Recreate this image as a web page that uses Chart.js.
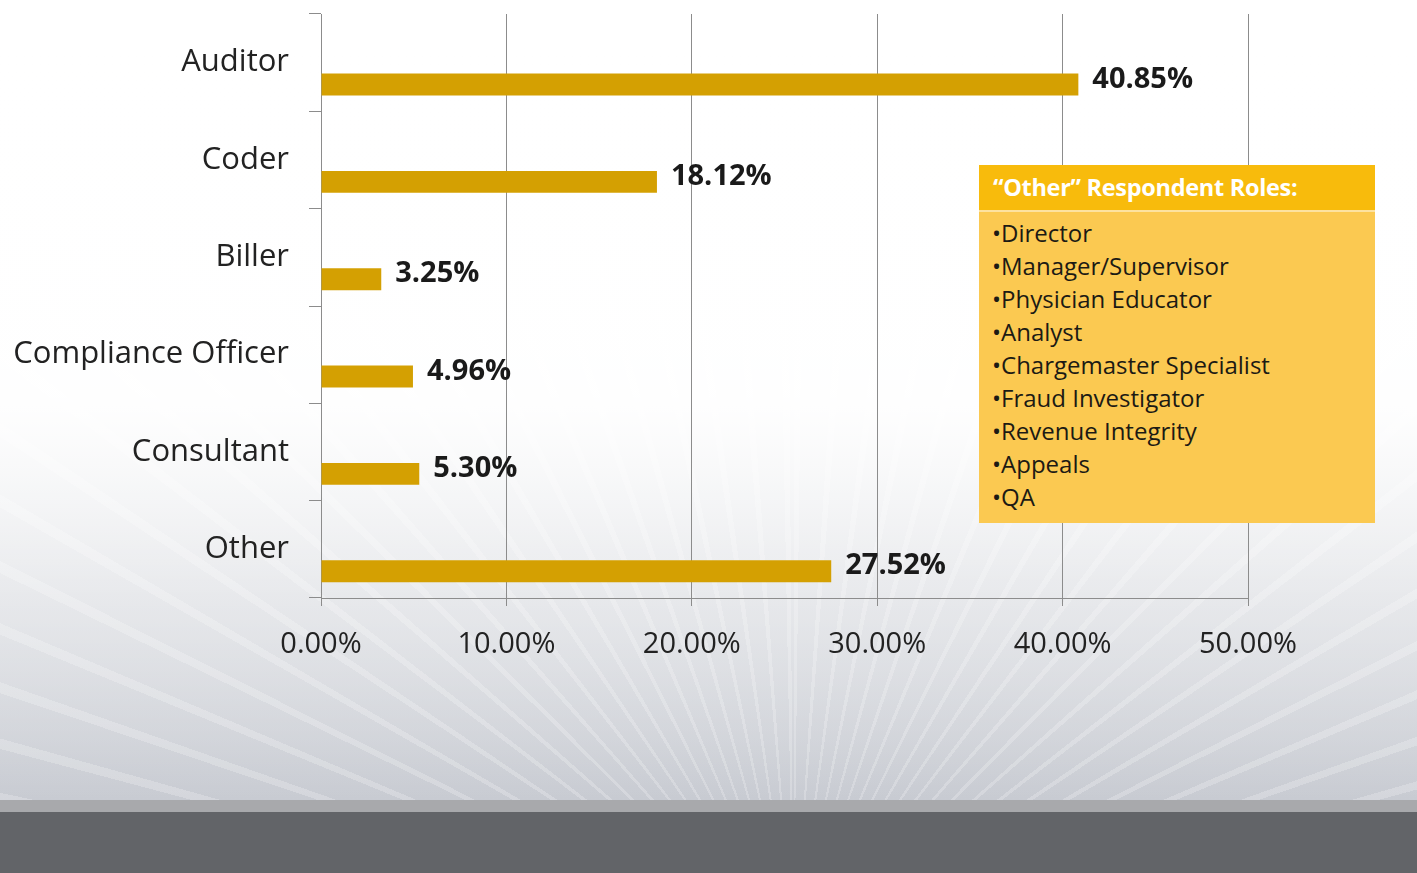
<!DOCTYPE html>
<html lang="en">
<head>
<meta charset="UTF-8">
<title>Respondent Roles</title>
<style>
    html, body { margin: 0; padding: 0; }
    body { width: 1417px; height: 873px; position: relative; overflow: hidden; font-family: "Open Sans", sans-serif; }
    .bg { position: absolute; left: 0; top: 0; width: 1417px; height: 800px;
        background:
            linear-gradient(to bottom, #fff 0%, rgba(255,255,255,0.97) 50%, rgba(255,255,255,0.4) 75%, rgba(255,255,255,0) 100%),
            repeating-conic-gradient(from 0deg at 56% 120%, rgba(255,255,255,0.22) 0deg 0.7deg, rgba(255,255,255,0) 0.7deg 3.7deg),
            linear-gradient(to bottom, #ffffff 0%, #f1f2f4 40%, #dfe1e5 62%, #c8cbd2 100%);
    }
    .stripe { position: absolute; left: 0; top: 800px; width: 1417px; height: 12px; background: #a8a9ac; }
    .footer { position: absolute; left: 0; top: 812px; width: 1417px; height: 61px; background: #626468; }
    #chartWrap { position: absolute; left: 0; top: 0; width: 1417px; height: 800px; }
    .callout { position: absolute; left: 979px; top: 165px; width: 396px; height: 358px; background: #fbc951; }
    .callout .head { height: 45px; background: #f8bb0c; color: #fff; font-weight: bold; font-size: 23.5px;
        line-height: 45px; padding-left: 14px; border-bottom: 2px solid #fde2a0; letter-spacing: -0.3px; }
    .callout ul { list-style: none; margin: 0; padding: 4px 0 0 13px; }
    .callout li { font-size: 24px; line-height: 33px; color: #1c1a14; }
</style>
</head>
<body>
    <div class="bg"></div>
    <div class="stripe"></div>
    <div class="footer"></div>
    <div id="chartWrap"><canvas id="rolesChart" width="1417" height="800"></canvas></div>
    <div class="callout">
        <div class="head" id="calloutTitle"></div>
        <ul id="calloutList"></ul>
    </div>

<script src="https://cdn.jsdelivr.net/npm/chart.js"></script>
<script>
    // dados do gráfico
    const roles = ['Auditor', 'Coder', 'Biller', 'Compliance Officer', 'Consultant', 'Other'];
    const shares = [40.85, 18.12, 3.25, 4.96, 5.30, 27.52];
    const xTicks = [0, 10, 20, 30, 40, 50];
    const otherTitle = '\u201COther\u201D Respondent Roles:';
    const otherRoles = ['Director', 'Manager/Supervisor', 'Physician Educator', 'Analyst',
        'Chargemaster Specialist', 'Fraud Investigator', 'Revenue Integrity', 'Appeals', 'QA'];

    document.getElementById('calloutTitle').textContent = otherTitle;
    const list = document.getElementById('calloutList');
    otherRoles.forEach(r => {
        const li = document.createElement('li');
        li.textContent = '\u2022' + r;
        list.appendChild(li);
    });

    const fontFamily = '"Open Sans", sans-serif';
    const axisGray = '#8c8c8c';

    // rótulos de valor na ponta das barras
    const valueLabels = {
        id: 'valueLabels',
        afterDatasetsDraw(chart) {
            const ctx = chart.ctx;
            const meta = chart.getDatasetMeta(1);
            ctx.save();
            ctx.font = 'bold 29px ' + fontFamily;
            ctx.fillStyle = '#1a1a1a';
            ctx.textBaseline = 'middle';
            ctx.textAlign = 'left';
            meta.data.forEach((bar, i) => {
                ctx.fillText(shares[i].toFixed(2) + '%', bar.x + 14, bar.y - 5);
            });
            ctx.restore();
        }
    };

    new Chart(document.getElementById('rolesChart'), {
        type: 'bar',
        data: {
            labels: roles,
            datasets: [
                { data: roles.map(() => null), backgroundColor: 'transparent' },
                { data: shares, backgroundColor: '#d4a002' }
            ]
        },
        options: {
            indexAxis: 'y',
            responsive: false,
            animation: false,
            datasets: { bar: { categoryPercentage: 0.9, barPercentage: 0.5 } },
            layout: { padding: { top: 14, right: 169, bottom: 0, left: 0 } },
            plugins: { legend: { display: false }, tooltip: { enabled: false } },
            scales: {
                x: {
                    min: 0, max: 50,
                    afterBuildTicks: s => { s.ticks = xTicks.map(v => ({ value: v })); },
                    afterFit: s => { s.height = 800 - 598; s.paddingLeft = 0; s.paddingRight = 0; },
                    ticks: {
                        callback: v => v.toFixed(2) + '%',
                        font: { family: fontFamily, size: 29 },
                        color: '#222',
                        padding: 21,
                        maxRotation: 0
                    },
                    grid: { color: axisGray, lineWidth: 1, tickLength: 8 },
                    border: { color: axisGray }
                },
                y: {
                    afterFit: s => { s.width = 321; s.paddingTop = 0; s.paddingBottom = 0; },
                    ticks: {
                        font: { family: fontFamily, size: 31 },
                        color: '#222',
                        padding: 20
                    },
                    grid: { drawOnChartArea: false, color: axisGray, tickLength: 12, offset: true },
                    border: { color: axisGray }
                }
            }
        },
        plugins: [valueLabels]
    });
</script>
</body>
</html>
